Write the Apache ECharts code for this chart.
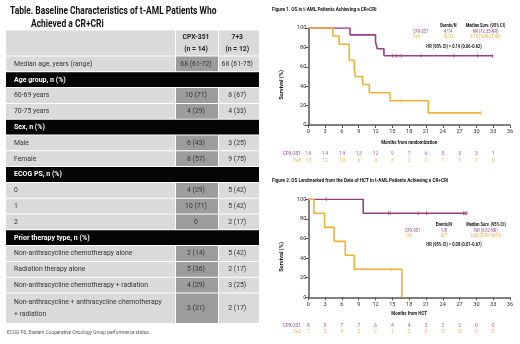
<!DOCTYPE html>
<html>
<head>
<meta charset="utf-8">
<script src="https://cdn.jsdelivr.net/npm/echarts@6/dist/echarts.min.js"></script>
<style>
html, body { margin: 0; padding: 0; background: #fff; }
#main { width: 520px; height: 344px; }
</style>
</head>
<body>
<div id="main"></div>
<script>
// ---- table data ----
const tableTitle1 = 'Table. Baseline Characteristics of t-AML Patients Who';
const tableTitle2 = 'Achieved a CR+CRi';
const colHeads = [['CPX-351', '(n = 14)'], ['7+3', '(n = 12)']];
const rowLabels = ['Median age, years (range)', 'Age group, n (%)', '60-69 years', '70-75 years',
  'Sex, n (%)', 'Male', 'Female', 'ECOG PS, n (%)', '0', '1', '2', 'Prior therapy type, n (%)',
  'Non-anthracycline chemotherapy alone', 'Radiation therapy alone',
  'Non-anthracycline chemotherapy + radiation',
  'Non-anthracycline + anthracycline chemotherapy\n+ radiation'];
const rowIsSection = [0, 1, 0, 0, 1, 0, 0, 1, 0, 0, 0, 1, 0, 0, 0, 0];
const cpxValues = ['68 (61-72)', '', '10 (71)', '4 (29)', '', '6 (43)', '8 (57)', '', '4 (29)', '10 (71)', '0', '', '2 (14)', '5 (36)', '4 (29)', '3 (21)'];
const sevenValues = ['68 (61-75)', '', '8 (67)', '4 (33)', '', '3 (25)', '9 (75)', '', '5 (42)', '5 (42)', '2 (17)', '', '5 (42)', '2 (17)', '3 (25)', '2 (17)'];
const footnote = 'ECOG PS, Eastern Cooperative Oncology Group performance status.';

// ---- figure 1: OS from randomization (KM steps: [month, survival %]) ----
const fig1Title = 'Figure 1. OS in t-AML Patients Achieving a CR+CRi';
const fig1Cpx = [[0, 100], [7.45, 92.9], [12.0, 85.7], [12.3, 78.6], [13.5, 71.4], [32.9, 71.4]];
const fig1Cpx_censor = [[15.0, 71.4], [15.7, 71.4], [16.6, 71.4], [20.1, 71.4], [26.0, 71.4], [30.2, 71.4], [32.9, 71.4]];
const fig1Std = [[0, 100], [4.35, 91.7], [5.5, 83.3], [7.3, 66.7], [8.2, 58.3], [8.4, 50], [9.7, 41.7], [10.9, 33.3], [14.6, 25], [21.4, 12.5], [30.8, 12.5]];
const fig1Std_censor = [[16.6, 25], [30.8, 12.5]];
const fig1RiskCpx = [14, 14, 14, 13, 12, 9, 7, 6, 5, 3, 3, 1];
const fig1RiskStd = [12, 12, 10, 6, 4, 3, 2, 2, 1, 1, 1, 0];
const fig1Stats = [['CPX-351', '4/14', 'NR (12.35-NR)'], ['7+3', '10/12', '9.15 (5.49-21.42)']];
const fig1HR = 'HR (95% CI) = 0.19 (0.06-0.62)';

// ---- figure 2: OS landmarked from HCT ----
const fig2Title = 'Figure 2. OS Landmarked from the Date of HCT in t-AML Patients Achieving a CR+CRi';
const fig2Cpx = [[0, 100], [9.8, 85.7], [28.3, 85.7]];
const fig2Cpx_censor = [[3.2, 100], [14.3, 85.7], [14.6, 85.7], [19.6, 85.7], [21.1, 85.7], [27.7, 85.7], [28.0, 85.7], [28.3, 85.7]];
const fig2Std = [[0, 100], [1.0, 85.7], [2.9, 71.4], [4.6, 57.1], [6.6, 42.9], [8.2, 28.6], [16.7, 0]];
const fig2Std_censor = [[14.9, 28.6]];
const fig2RiskCpx = [8, 8, 7, 7, 6, 4, 4, 3, 2, 2, 0, 0];
const fig2RiskStd = [7, 5, 4, 2, 2, 1, 0, 0, 0, 0, 0, 0];
const fig2Stats = [['CPX-351', '1/8', 'NR (9.82-NR)'], ['7+3', '6/7', '6.60 (0.99-16.69)']];
const fig2HR = 'HR (95% CI) = 0.08 (0.01-0.67)';

const riskMonths = [0, 3, 6, 9, 12, 15, 18, 21, 24, 27, 30, 33];

const FN = '"Liberation Sans Narrow", "Roboto", "Liberation Sans", sans-serif';
const PURPLE = '#9a3d86';
const ORANGE = '#f2b134';
const PURPLE_T = '#9b4a90';
const ORANGE_T = '#e9a93a';
const AXIS = '#555';

// text helper; sx squeezes the glyphs horizontally to mimic the condensed face
function txt(text, x, y, o) {
  o = o || {};
  return {
    type: 'text', x: x, y: y, rotation: o.rot || 0, silent: true,
    scaleX: o.rot ? 1 : (o.sx || 0.8), scaleY: o.rot ? (o.sx || 0.8) : 1,
    style: {
      text: text, x: 0, y: 0,
      fontSize: o.size || 6, fontFamily: FN, fontWeight: o.bold ? 'bold' : 'normal',
      fill: o.color || '#222',
      align: o.align || 'left', textAlign: o.align || 'left',
      verticalAlign: 'middle', textVerticalAlign: 'middle',
      lineHeight: o.lh
    }
  };
}
function box(x, y, w, h, color) {
  return { type: 'rect', silent: true, shape: { x: x, y: y, width: w, height: h }, style: { fill: color } };
}

// ---- build table graphics ----
const TX0 = 6, TX1 = 175.5, TX2 = 218.5, TX3 = 259;
const HEAD_Y = 30.5, HEAD_H = 25;
const ROW_Y0 = 56.5, ROW_P = 15.8;
const LIGHT = '#dadada', DARK = '#9c9c9c';
const FS = 7.6, SX = 0.9;
const g = [];
g.push(txt(tableTitle1, 10, 11, { size: 11, bold: true, color: '#111', sx: 0.77 }));
g.push(txt(tableTitle2, 31, 24, { size: 11, bold: true, color: '#111', sx: 0.77 }));
g.push(box(TX0, HEAD_Y, TX1 - TX0 - 0.5, HEAD_H, LIGHT));
g.push(box(TX1 + 0.5, HEAD_Y, TX2 - TX1 - 1, HEAD_H, LIGHT));
g.push(box(TX2 + 0.5, HEAD_Y, TX3 - TX2 - 0.5, HEAD_H, LIGHT));
const colCx = [(TX1 + TX2) / 2 - 1, (TX2 + TX3) / 2 - 1.5];
colHeads.forEach((h, i) => {
  g.push(txt(h[0], colCx[i], HEAD_Y + 6.5, { size: 8, bold: true, align: 'center', color: '#222', sx: 0.85 }));
  g.push(txt(h[1], colCx[i], HEAD_Y + 18.5, { size: 8, bold: true, align: 'center', color: '#222', sx: 0.85 }));
});
rowLabels.forEach((lab, i) => {
  const y = ROW_Y0 + i * ROW_P;
  const h = i === rowLabels.length - 1 ? 29.5 : ROW_P - 1;
  const cy = y + h / 2;
  if (rowIsSection[i]) {
    g.push(box(TX0, y, TX3 - TX0, h, '#050505'));
    g.push(txt(lab, 14, cy, { size: 7.8, bold: true, color: '#fff', sx: 0.9 }));
  } else {
    g.push(box(TX0, y, TX1 - TX0 - 0.5, h, LIGHT));
    g.push(box(TX1 + 0.5, y, TX2 - TX1 - 1, h, DARK));
    g.push(box(TX2 + 0.5, y, TX3 - TX2 - 0.5, h, LIGHT));
    g.push(txt(lab, 14, cy, { size: FS, color: '#333', lh: 12.6, sx: SX }));
    g.push(txt(cpxValues[i], colCx[0], cy, { size: FS, color: '#333', align: 'center', sx: SX }));
    g.push(txt(sevenValues[i], colCx[1], cy, { size: FS, color: '#333', align: 'center', sx: SX }));
  }
});
g.push(txt(footnote, 7, 333, { size: 5.6, color: '#555', sx: 0.85 }));

// ---- figure annotations ----
function figText(title, ty, stats, sy, hr, hy, nameX, evX, medX, survY, riskY, axName, axY) {
  g.push(txt(title, 272, ty, { size: 5.6, bold: true, color: '#111', sx: 0.82 }));
  g.push(txt('Events/N', evX, sy, { size: 5, bold: true, align: 'center', color: '#111' }));
  g.push(txt('Median Surv. (95% CI)', medX, sy, { size: 5, bold: true, align: 'center', color: '#111' }));
  stats.forEach((s, i) => {
    const c = i === 0 ? PURPLE_T : ORANGE_T;
    const y = sy + 6 + i * 5;
    g.push(txt(s[0], nameX, y, { size: 5, color: c }));
    g.push(txt(s[1], evX, y, { size: 5, color: c, align: 'center' }));
    g.push(txt(s[2], medX, y, { size: 5, color: c, align: 'center' }));
  });
  g.push(txt(hr, 454, hy, { size: 5, bold: true, align: 'center', color: '#111' }));
  g.push(txt('Survival (%)', 282, survY, { size: 5.6, bold: true, align: 'center', color: '#111', rot: Math.PI / 2 }));
  g.push(txt(axName, 409.2, axY, { size: 5.6, bold: true, align: 'center', color: '#111' }));
  g.push(txt('CPX-351', 301, riskY[0], { size: 5.6, color: PURPLE_T, align: 'right', sx: 0.85 }));
  g.push(txt('7+3', 301, riskY[1], { size: 5.6, color: ORANGE_T, align: 'right', sx: 0.85 }));
}
figText(fig1Title, 10, fig1Stats, 25.5, fig1HR, 46.5, 413, 448.3, 485.5, 85, [153.3, 160.3], 'Months from randomization', 142.7);
figText(fig2Title, 181, fig2Stats, 224.5, fig2HR, 245, 405, 444, 486, 257, [325.3, 332], 'Months from HCT', 314);

// ---- axes / grids ----
const PL = 308.3, PW = 201.7;
const grids = [
  { left: PL, width: PW, top: 28, height: 97 },
  { left: PL, width: PW, top: 153.3, height: 7 },
  { left: PL, width: PW, top: 199.3, height: 98 },
  { left: PL, width: PW, top: 325.3, height: 6.7 }
];
function plotX(gi) {
  return {
    gridIndex: gi, type: 'value', min: 0, max: 36, interval: 3,
    axisLine: { lineStyle: { color: AXIS, width: 1.5 } },
    axisTick: { length: 3, lineStyle: { color: AXIS, width: 1 } },
    axisLabel: { fontSize: 5.6, fontFamily: FN, color: '#333', margin: 4 },
    splitLine: { show: false }
  };
}
function plotY(gi) {
  return {
    gridIndex: gi, type: 'value', min: 0, max: 100, interval: 20,
    axisLine: { show: true, lineStyle: { color: AXIS, width: 1.5 } },
    axisTick: { show: true, length: 3, lineStyle: { color: AXIS, width: 1 } },
    axisLabel: { fontSize: 5.6, fontFamily: FN, color: '#333', margin: 2 },
    splitLine: { show: false }
  };
}
function hiddenX(gi) { return { gridIndex: gi, type: 'value', min: 0, max: 36, show: false }; }
function hiddenY(gi) { return { gridIndex: gi, type: 'value', min: 0, max: 1, show: false }; }

function km(data, color, ai) {
  return {
    type: 'line', xAxisIndex: ai, yAxisIndex: ai, data: data, step: 'end',
    symbol: 'none', lineStyle: { color: color, width: 1.6 }, silent: true, z: 3
  };
}
function censor(data, color, ai) {
  return {
    type: 'scatter', xAxisIndex: ai, yAxisIndex: ai, data: data,
    symbol: 'rect', symbolSize: [0.9, 4], itemStyle: { color: color }, silent: true, z: 4
  };
}
function risk(vals, rowY, color, ai) {
  return {
    type: 'scatter', xAxisIndex: ai, yAxisIndex: ai,
    data: vals.map((v, i) => [riskMonths[i], rowY, v]),
    symbolSize: 0.1, itemStyle: { color: 'transparent' }, silent: true,
    label: { show: true, position: 'inside', formatter: p => String(p.value[2]), fontSize: 5.6, fontFamily: FN, color: color }
  };
}

const chart = echarts.init(document.getElementById('main'), null, { renderer: 'canvas' });
chart.setOption({
  animation: false,
  backgroundColor: '#fff',
  grid: grids,
  xAxis: [plotX(0), hiddenX(1), plotX(2), hiddenX(3)],
  yAxis: [plotY(0), hiddenY(1), plotY(2), hiddenY(3)],
  series: [
    km(fig1Cpx, PURPLE, 0), km(fig1Std, ORANGE, 0),
    censor(fig1Cpx_censor, PURPLE, 0), censor(fig1Std_censor, ORANGE, 0),
    risk(fig1RiskCpx, 1, PURPLE_T, 1), risk(fig1RiskStd, 0, ORANGE_T, 1),
    km(fig2Cpx, PURPLE, 2), km(fig2Std, ORANGE, 2),
    censor(fig2Cpx_censor, PURPLE, 2), censor(fig2Std_censor, ORANGE, 2),
    risk(fig2RiskCpx, 1, PURPLE_T, 3), risk(fig2RiskStd, 0, ORANGE_T, 3)
  ],
  graphic: g
});
</script>
</body>
</html>
